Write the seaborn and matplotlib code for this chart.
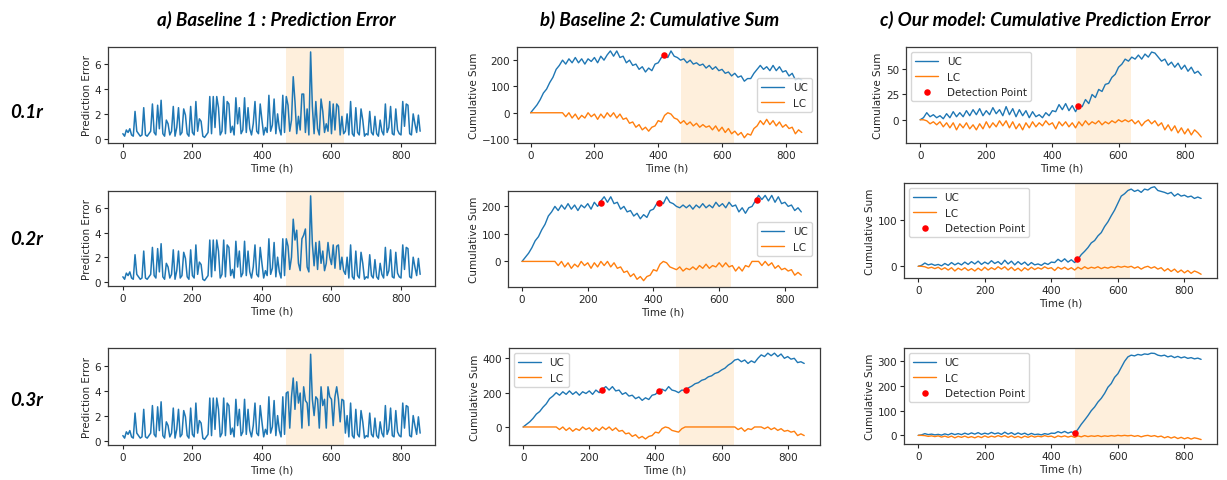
import numpy as np
import matplotlib
matplotlib.use('Agg')
import matplotlib.pyplot as plt
import seaborn as sns

# ---------------- data ----------------
rates = ['0.1r', '0.2r', '0.3r']
anomaly_start, anomaly_end = 470, 637

# prediction error, every 5 h from 0 to 855
t_err = np.arange(0, 856, 5)
err_base = [
    0.4, 0.2, 0.7, 0.5, 0.8, 0.3, 0.2, 2.2, 0.6, 0.4,
    0.2, 0.3, 2.5, 0.3, 0.2, 0.4, 0.6, 2.8, 0.5, 0.3,
    2.7, 0.8, 3.1, 0.4, 0.2, 1.5, 1.2, 0.3, 0.6, 2.6,
    0.2, 0.9, 2.5, 0.3, 0.5, 2.4, 1.9, 0.4, 0.2, 2.6,
    0.5, 0.3, 3.0, 0.6, 1.6, 1.4, 0.2, 0.1, 0.3, 0.5,
    3.4, 0.4, 3.4, 0.9, 3.4, 2.5, 0.3, 0.6, 3.4, 0.4,
    3.0, 2.8, 0.5, 1.0, 0.3, 3.3, 1.2, 2.5, 0.4, 0.7,
    3.3, 0.5, 2.5, 0.8, 0.3, 1.2, 3.0, 0.6, 0.4, 2.8,
    1.5, 0.3, 0.9, 0.5, 3.5, 0.6, 1.1, 3.2, 0.4, 2.0,
    0.8, 0.3, 3.5, 0.5, 3.4, 2.7, 0.6, 1.5, 5.0, 3.0,
    0.4, 1.8, 0.7, 3.6, 3.6, 0.5, 2.4, 0.3, 7.0, 2.6,
    0.4, 3.0, 0.8, 0.3, 3.2, 2.2, 0.5, 1.2, 0.6, 3.0,
    0.4, 2.8, 0.7, 2.8, 2.6, 0.3, 1.8, 0.4, 0.6, 2.0,
    0.3, 3.0, 0.4, 0.2, 2.5, 0.5, 0.3, 2.4, 1.5, 0.2,
    0.4, 0.3, 2.2, 0.5, 0.3, 1.8, 0.4, 0.2, 1.5, 0.6,
    0.3, 2.8, 0.5, 0.9, 2.6, 0.4, 0.3, 2.4, 0.7, 0.4,
    0.3, 3.0, 1.0, 2.8, 2.7, 0.4, 0.3, 2.0, 1.2, 0.5,
    1.9, 0.6,
]
# inside the anomaly window (470..635 h) the larger rates differ
err_window = {
    '0.2r': [3.5, 2.9, 1.0, 2.0, 5.1, 3.4, 4.2, 1.5, 0.9, 3.5,
             3.8, 4.3, 1.2, 0.8, 7.0, 3.1, 1.3, 3.2, 1.0, 3.3,
             1.5, 2.5, 0.9, 1.5, 3.2, 2.0, 1.4, 3.0, 1.1, 2.9,
             3.0, 1.0, 2.0, 0.9],
    '0.3r': [3.8, 3.9, 1.0, 3.5, 5.0, 2.5, 4.7, 3.0, 3.8, 1.0,
             4.3, 3.2, 3.0, 1.2, 6.9, 3.3, 2.0, 3.5, 3.3, 1.0,
             4.3, 2.8, 3.3, 1.0, 4.3, 3.5, 3.3, 1.2, 3.5, 4.3,
             3.3, 1.5, 3.3, 3.2],
}

# cumulative sums, every 10 h; head = 0..460 h (shared), tail = 470..850 h
t_cum = np.arange(0, 851, 10)

b_uc_head = [0, 15, 30, 50, 75, 90, 115, 135, 165, 180,
             200, 185, 205, 190, 210, 190, 205, 185, 205, 195,
             210, 190, 215, 200, 220, 235, 215, 235, 210, 215,
             190, 200, 180, 185, 165, 175, 155, 170, 160, 185,
             190, 210, 220, 210, 235, 215, 210]
b_uc_tail = {
    '0.1r': [200, 205, 190, 200, 185, 190, 180, 185, 170, 180,
             165, 175, 160, 165, 150, 155, 140, 150, 135, 140,
             120, 130, 130, 150, 165, 180, 165, 175, 160, 180,
             160, 175, 155, 160, 140, 150, 125, 130, 125],
    '0.2r': [200, 195, 205, 195, 205, 190, 205, 195, 210, 195,
             205, 195, 215, 200, 210, 195, 215, 200, 205, 180,
             195, 175, 195, 200, 220, 240, 225, 240, 220, 240,
             215, 235, 210, 215, 200, 205, 185, 195, 180],
    '0.3r': [200, 215, 212, 228, 238, 252, 258, 272, 278, 292,
             298, 312, 318, 332, 342, 360, 372, 390, 395, 380,
             390, 370, 385, 375, 400, 420, 410, 430, 415, 430,
             410, 425, 400, 410, 395, 400, 375, 380, 370],
}
b_lc_head = [0, 0, 0, 0, 0, 0, 0, 0, 0, 0,
             0, -15, 0, -20, -5, -25, -10, -20, 0, -15,
             -5, -25, -5, -20, 0, -15, 0, -20, -5, -25,
             -20, -40, -35, -55, -45, -65, -55, -70, -55, -50,
             -30, -35, -10, 0, -5, -20, -25]
b_lc_tail = {
    '0.1r': [-40, -30, -45, -35, -50, -40, -55, -45, -55, -50,
             -65, -50, -70, -55, -75, -60, -80, -70, -85, -75,
             -95, -80, -85, -60, -50, -30, -45, -25, -45, -30,
             -50, -35, -55, -45, -60, -55, -80, -65, -75],
    '0.2r': [-30, -20, -35, -25, -30, -20, -30, -15, -25, -10,
             -25, -15, -20, -5, -20, -5, -20, -15, -35, -20,
             -35, -15, -20, 0, 0, 0, -15, 0, -15, -5,
             -25, -15, -30, -25, -35, -30, -50, -40, -50],
    '0.3r': [-30, -10, 0, 0, 0, 0, 0, 0, 0, 0,
             0, 0, 0, 0, 0, 0, 0, 0, -15, -5,
             -25, -10, -15, 0, 0, 0, -10, 0, -15, -5,
             -20, -10, -25, -20, -30, -25, -50, -40, -50],
}

c_uc_head = [0, 2, 7, 3, 5, 2, 4, 1, 6, 2,
             8, 3, 7, 3, 9, 4, 10, 5, 11, 4,
             9, 5, 12, 6, 10, 4, 13, 5, 11, 3,
             10, 4, 9, 2, 8, 3, 5, 2, 7, 4,
             9, 8, 15, 10, 16, 9, 14]
c_uc_tail = {
    '0.1r': [8, 14, 13, 20, 16, 25, 22, 30, 28, 35,
             36, 42, 45, 52, 55, 60, 58, 62, 60, 64,
             60, 65, 62, 67, 66, 62, 58, 60, 54, 57,
             52, 56, 50, 54, 48, 52, 46, 48, 44],
    '0.2r': [8, 15, 25, 32, 40, 50, 55, 65, 72, 85,
             95, 108, 120, 135, 150, 155, 162, 165, 160, 163,
             158, 165, 163, 168, 170, 162, 160, 158, 155, 158,
             150, 155, 150, 152, 148, 150, 145, 148, 145],
    '0.3r': [8, 25, 45, 62, 80, 100, 115, 135, 150, 170,
             195, 210, 235, 250, 275, 300, 318, 325, 322, 328,
             325, 330, 328, 333, 332, 325, 322, 325, 318, 322,
             315, 320, 314, 318, 312, 315, 310, 313, 308],
}
c_lc_head = [0, 0, -1, -4, -2, -5, -2, -7, -3, -8,
             -3, -10, -4, -8, -3, -9, -5, -10, -4, -9,
             -2, -8, -3, -7, -1, -6, -1, -8, -2, -9,
             -4, -10, -3, -8, -2, -7, -3, -6, -1, -5,
             -3, -9, -2, -6, -2, -7, -3]
c_lc_tail = [-8, -2, -6, -1, -5, -2, -4, -1, -5, -2,
             -4, -1, -3, 0, -2, 0, -2, 0, -4, -1,
             -6, -2, 0, -4, -1, -6, -3, -10, -5, -11,
             -6, -13, -8, -14, -9, -15, -10, -13, -17]

# detection points (time, value)
b_detect_t = {'0.1r': [418], '0.2r': [240, 418, 715], '0.3r': [238, 412, 492]}
b_detect_v = {'0.1r': [220], '0.2r': [213, 212, 225], '0.3r': [218, 210, 218]}
c_detect_t = {'0.1r': [478], '0.2r': [476], '0.3r': [472]}
c_detect_v = {'0.1r': [14], '0.2r': [15], '0.3r': [10]}

col_titles = ['a) Baseline 1 : Prediction Error',
              'b) Baseline 2: Cumulative Sum',
              'c) Our model: Cumulative Prediction Error']

# ---------------- style ----------------
sns.set_theme(style='ticks', rc={
    'axes.edgecolor': '#3a3a3a',
    'axes.linewidth': 0.9,
    'xtick.major.size': 3, 'ytick.major.size': 3,
    'xtick.major.width': 0.8, 'ytick.major.width': 0.8,
    'xtick.labelsize': 7.5, 'ytick.labelsize': 7.5,
    'axes.labelsize': 7.5,
    'legend.fontsize': 7.5,
    'xtick.major.pad': 2, 'ytick.major.pad': 2,
    'axes.labelpad': 2,
})
plt.rcParams['font.family'] = ['DejaVu Sans']

BLUE, ORANGE = '#1f77b4', '#ff7f0e'
SHADE = '#feefdc'
W, H = 1227, 481

fig = plt.figure(figsize=(W / 100, H / 100), dpi=100)


def add_ax(left, right, top, bottom):
    return fig.add_axes([left / W, 1 - bottom / H, (right - left) / W, (bottom - top) / H])


# pixel boxes (left, right, top, bottom) per row
boxes_a = [(108, 435, 48, 144), (108, 435, 192, 287), (108, 435, 349, 446)]
boxes_b = [(517, 817, 48, 144), (508, 817, 192, 288), (509, 820, 349, 446)]
boxes_c = [(906, 1217, 48, 144), (904, 1217, 184, 279), (904, 1217, 349, 445)]
ylim_b = [(-115, 250), (-93, 256), (-105, 460)]
ylim_c = [(-23, 72), (-25, 178), (-35, 354)]
legend_b = ['center right', 'center right', 'upper left']
xlim = (-42.75, 897.75)

window = (t_err >= anomaly_start) & (t_err <= 635)

for i, rate in enumerate(rates):
    # ---- a) prediction error ----
    err = np.array(err_base, dtype=float)
    if rate in err_window:
        err[window] = err_window[rate]
    ax = add_ax(*boxes_a[i])
    ax.axvspan(anomaly_start, anomaly_end, color=SHADE, lw=0, zorder=0)
    sns.lineplot(x=t_err, y=err, ax=ax, color=BLUE, lw=1.1)
    ax.set_xlim(xlim)
    ax.set_ylim(-0.35, 7.4)
    ax.set_yticks([0, 2, 4, 6])
    ax.set_xlabel('Time (h)')
    ax.set_ylabel('Prediction Error')

    # ---- b) cumulative sum ----
    uc = b_uc_head + b_uc_tail[rate]
    lc = b_lc_head + b_lc_tail[rate]
    ax = add_ax(*boxes_b[i])
    ax.axvspan(anomaly_start, anomaly_end, color=SHADE, lw=0, zorder=0)
    sns.lineplot(x=t_cum, y=uc, ax=ax, color=BLUE, lw=1.0, label='UC')
    sns.lineplot(x=t_cum, y=lc, ax=ax, color=ORANGE, lw=1.0, label='LC')
    sns.scatterplot(x=b_detect_t[rate], y=b_detect_v[rate], ax=ax, color='red',
                    s=22, linewidth=0, zorder=5, legend=False)
    ax.set_xlim(xlim)
    ax.set_ylim(ylim_b[i])
    ax.set_xlabel('Time (h)')
    ax.set_ylabel('Cumulative Sum')
    ax.legend(loc=legend_b[i], handlelength=2.2)

    # ---- c) our model ----
    uc = c_uc_head + c_uc_tail[rate]
    lc = c_lc_head + c_lc_tail
    ax = add_ax(*boxes_c[i])
    ax.axvspan(anomaly_start, anomaly_end, color=SHADE, lw=0, zorder=0)
    sns.lineplot(x=t_cum, y=uc, ax=ax, color=BLUE, lw=1.0, label='UC')
    sns.lineplot(x=t_cum, y=lc, ax=ax, color=ORANGE, lw=1.0, label='LC')
    sns.scatterplot(x=c_detect_t[rate], y=c_detect_v[rate], ax=ax, color='red',
                    s=22, linewidth=0, zorder=5, label='Detection Point')
    ax.set_xlim(xlim)
    ax.set_ylim(ylim_c[i])
    ax.set_xlabel('Time (h)')
    ax.set_ylabel('Cumulative Sum')
    ax.legend(loc='upper left', handlelength=2.2)

# column titles and row labels
title_font = dict(family=['Lato', 'DejaVu Sans'], weight='bold', style='italic',
                  fontsize=13.5, color='black')
for x, txt in zip([276, 660, 1045], col_titles):
    fig.text(x / W, 1 - 20 / H, txt, ha='center', va='center', **title_font)
for y, rate in zip([112, 240, 400], rates):
    fig.text(27 / W, 1 - y / H, rate, ha='center', va='center', **title_font)

fig.savefig('out.png', dpi=100)
